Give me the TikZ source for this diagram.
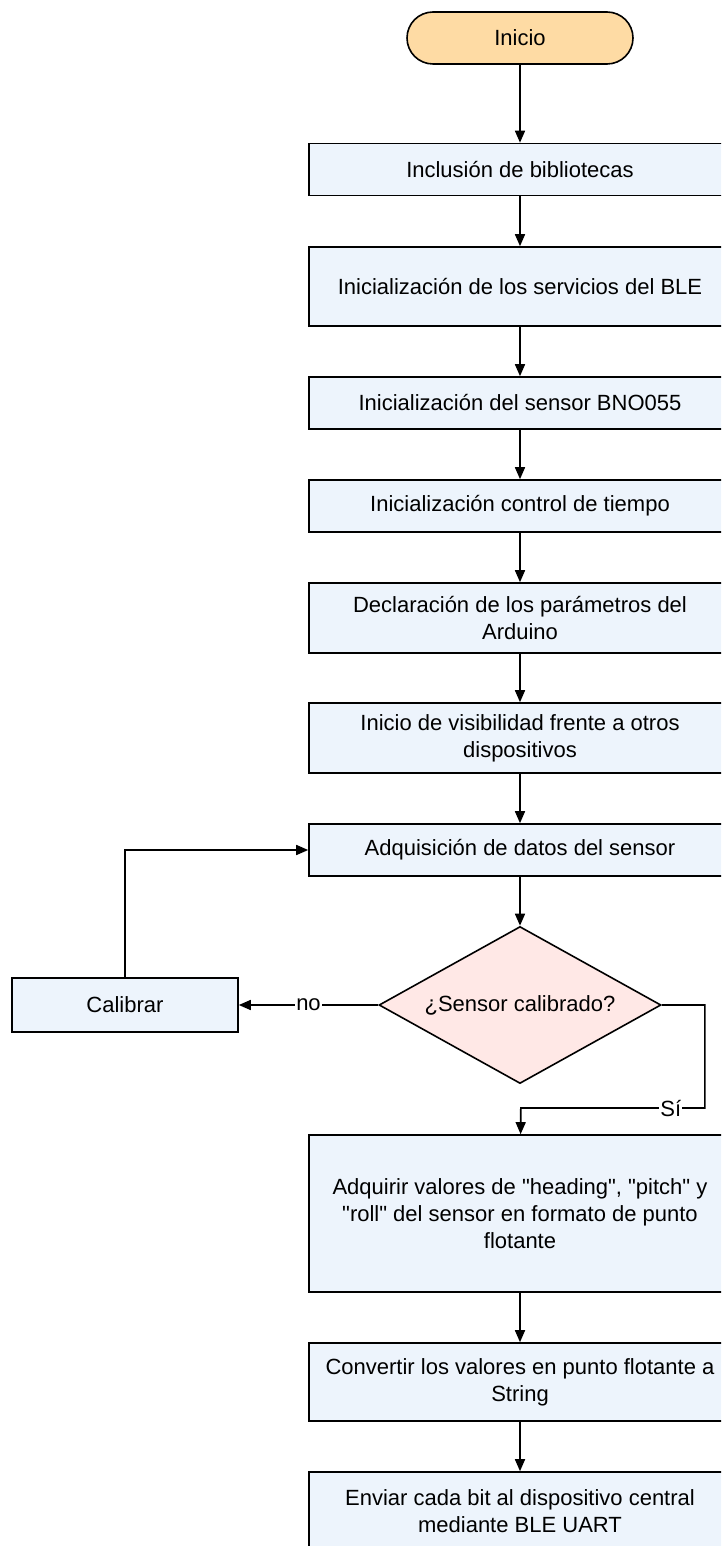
\documentclass[tikz,border=0pt]{standalone}
\usepackage{fontspec}
\setmainfont{Liberation Sans}[Ligatures=TeXOff]
\usepackage{tikz}
\definecolor{peach}{RGB}{254,219,164}
\definecolor{paleblue}{RGB}{237,244,252}
\definecolor{palerose}{RGB}{255,232,230}
\usetikzlibrary{shapes.geometric, arrows.meta}
\tikzstyle{startstop} = [rectangle, rounded corners=26pt, minimum width=226pt, minimum height=52pt, text centered, draw=black, fill=peach, line width=1.6pt]
\tikzstyle{process} = [rectangle, minimum width=422pt, minimum height=52pt, align=center, draw=black, fill=paleblue, line width=1.6pt]
\tikzstyle{decision} = [diamond, aspect=1.8, inner sep=2pt, minimum width=282pt, minimum height=157pt, align=center, draw=black, fill=palerose, line width=1.6pt]
\tikzstyle{arrow} = [line width=1.6pt, -{Triangle[length=12pt, width=10pt]}, draw=black]
\tikzstyle{answer} = [fill=white, inner sep=1pt]

\begin{document}
\begin{tikzpicture}[x=1pt, y=1pt, node distance=103pt, font=\fontsize{22pt}{27pt}\selectfont]
        \clip[use as bounding box] (0,0) rectangle (721,-1546);

        \node (node0) [startstop] at (520,-38) {Inicio};
        \node (node1) [process, below of=node0, yshift=-28.5pt] {Inclusión de bibliotecas};
        \node (node2) [process, below of=node1, yshift=-14pt, minimum height=79pt] {Inicialización de los servicios del BLE};
        \node (node3) [process, below of=node2, yshift=-13.5pt] {Inicialización del sensor BNO055};
        \node (node4) [process, below of=node3] {Inicialización control de tiempo};
        \node (node5) [process, below of=node4, yshift=-9pt, minimum height=70pt] {Declaración de los parámetros del\\Arduino};
        \node (node6) [process, below of=node5, yshift=-17pt, minimum height=70pt] {Inicio de visibilidad frente a otros\\dispositivos};
        \node (node7) [process, below of=node6, yshift=-9pt] {Adquisición de datos del sensor};
        \node (node8) [decision, below of=node7, yshift=-52pt] {¿Sensor calibrado?};
        \node (node9) [process, below of=node8, yshift=-105.5pt, minimum height=157pt] {Adquirir valores de "heading", "pitch" y\\"roll" del sensor en formato de punto\\flotante};
        \node (node10) [process, below of=node9, yshift=-65.5pt, minimum height=78pt] {Convertir los valores en punto flotante a\\String};
        \node (node11) [process, below of=node10, yshift=-26pt, minimum height=78pt] {Enviar cada bit al dispositivo central\\mediante BLE UART};

        \node (calib) [process, left of=node8, xshift=-292pt, minimum width=226pt, minimum height=54pt] {Calibrar};

        \draw [arrow] (node0) -- (node1);
        \draw [arrow] (node1) -- (node2);
        \draw [arrow] (node2) -- (node3);
        \draw [arrow] (node3) -- (node4);
        \draw [arrow] (node4) -- (node5);
        \draw [arrow] (node5) -- (node6);
        \draw [arrow] (node6) -- (node7);
        \draw [arrow] (node7) -- (node8);
        \draw [arrow] (node8) --node[answer] {no} (calib);
        \draw [arrow] (calib) |- (node7);
        \draw [arrow] (node8.east) -- ++(43pt,0) -- ++(0,-103pt) --node[answer, pos=0.185] {Sí} ++(-184pt,0) -- (node9);
        \draw [arrow] (node9) -- (node10);
        \draw [arrow] (node10) -- (node11);
    \end{tikzpicture}
\end{document}
